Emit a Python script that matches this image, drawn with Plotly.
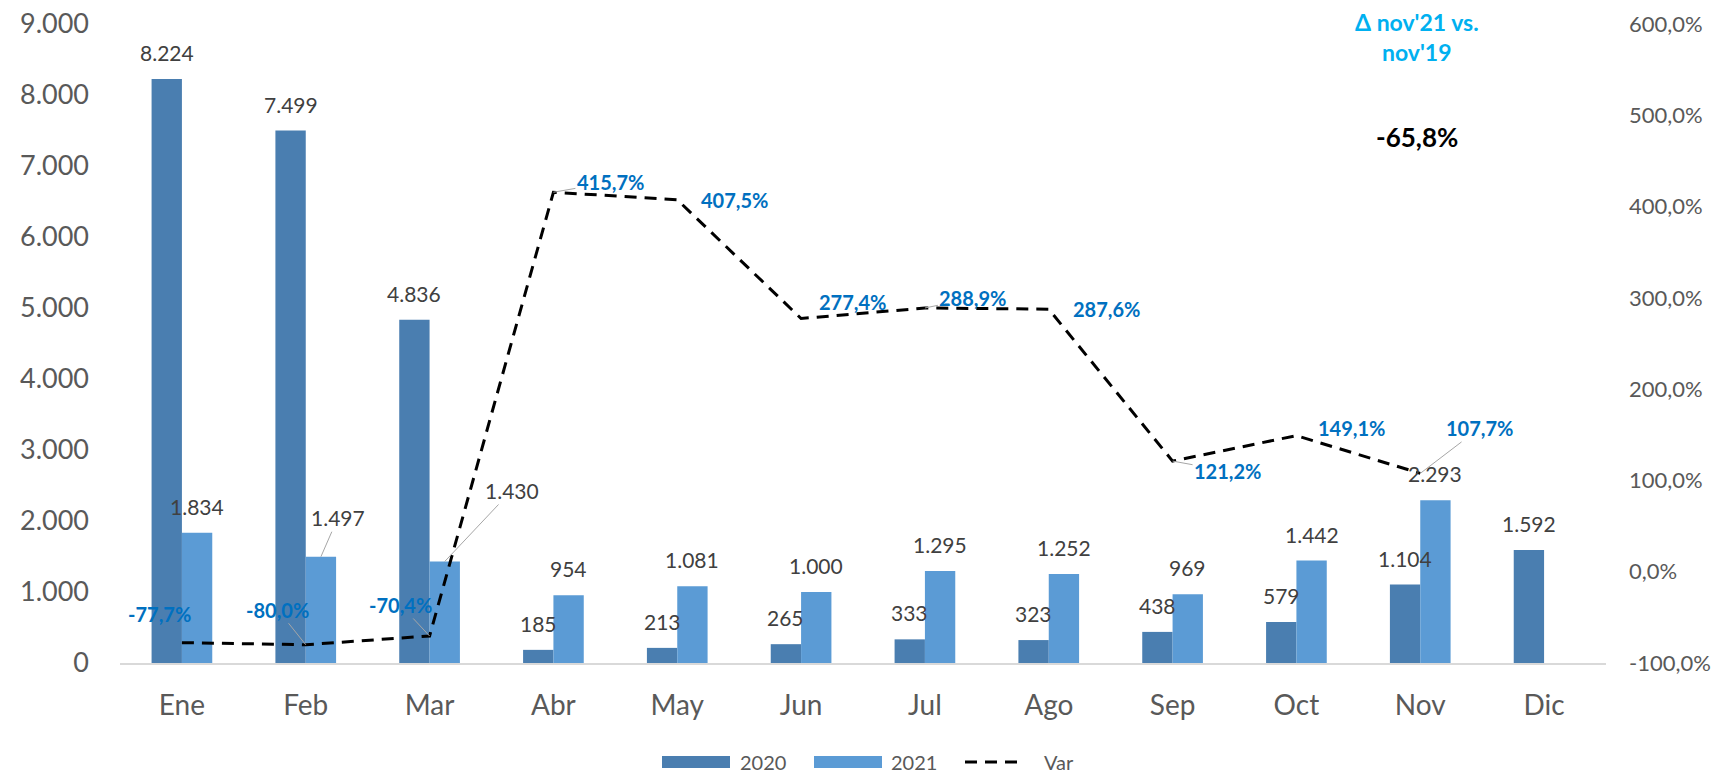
import plotly.graph_objects as go

months = ["Ene", "Feb", "Mar", "Abr", "May", "Jun", "Jul", "Ago", "Sep", "Oct", "Nov", "Dic"]
v2020 = [8224, 7499, 4836, 185, 213, 265, 333, 323, 438, 579, 1104, 1592]
v2021 = [1834, 1497, 1430, 954, 1081, 1000, 1295, 1252, 969, 1442, 2293, None]
var = [-77.7, -80.0, -70.4, 415.7, 407.5, 277.4, 288.9, 287.6, 121.2, 149.1, 107.7, None]

y_ticks = [0, 1000, 2000, 3000, 4000, 5000, 6000, 7000, 8000, 9000]
y_ticktext = ["0", "1.000", "2.000", "3.000", "4.000", "5.000", "6.000", "7.000", "8.000", "9.000"]
y2_ticks = [-100, 0, 100, 200, 300, 400, 500, 600]
y2_ticktext = ["-100,0%", "0,0%", "100,0%", "200,0%", "300,0%", "400,0%", "500,0%", "600,0%"]

note_title = ["Δ nov'21 vs.", "nov'19"]
note_value = "-65,8%"

C2020 = "#4A7EB0"
C2021 = "#5B9BD5"
FONT = "Lato"

def fmt_int(v):
    return f"{v:,}".replace(",", ".")

def fmt_pct(v):
    return f"{v:.1f}".replace(".", ",") + "%"

fig = go.Figure()
fig.add_trace(go.Bar(x=months, y=v2020, name="2020", marker=dict(color=C2020, line=dict(width=0)), yaxis="y"))
fig.add_trace(go.Bar(x=months, y=v2021, name="2021", marker=dict(color=C2021, line=dict(width=0)), yaxis="y"))
fig.add_trace(go.Scatter(x=months, y=var, name="Var", mode="lines", yaxis="y2",
                         line=dict(color="black", width=3, dash="12px,8px")))

BARGAP = 0.51
L, R, T, B = 120, 116, 24, 111
W, H = 1722, 774
cat_w = (W - L - R) / 12
bw = (1 - BARGAP) / 2 * cat_w
ann = []
lab_font = dict(family=FONT, size=21, color="#404040")

# bar labels
special = {("2021", 1): (17, -39), ("2021", 2): (67, -71)}
for series, vals, sh in (("2020", v2020, -bw / 2), ("2021", v2021, bw / 2)):
    for i, v in enumerate(vals):
        if v is None:
            continue
        key = (series, i)
        if key in special:
            ax, ay = special[key]
            ann.append(dict(x=months[i], y=v, xref="x", yref="y", xshift=sh, text=fmt_int(v),
                            showarrow=True, arrowhead=0, arrowwidth=1, arrowcolor="#A6A6A6",
                            ax=ax, ay=ay, standoff=0, font=lab_font))
        else:
            ann.append(dict(x=months[i], y=v, xref="x", yref="y", xshift=sh, yshift=12,
                            yanchor="bottom", text=fmt_int(v), showarrow=False, font=lab_font))

# var labels: (dx, dy, leader)
var_pos = [(-22, -29, False), (-28, -35, True), (-29, -31, True), (57, -10, True), (57, 0, False),
           (51, -16, False), (48, -10, True), (58, 0, False), (55, 10, True), (55, -8, False),
           (59, -45, True), None]
var_font = dict(family=FONT, size=20, color="#0070C0")
for i, v in enumerate(var):
    if v is None:
        continue
    dx, dy, lead = var_pos[i]
    txt = "<b>" + fmt_pct(v) + "</b>"
    if lead:
        ann.append(dict(x=months[i], y=v, xref="x", yref="y2", text=txt, showarrow=True,
                        arrowhead=0, arrowwidth=1, arrowcolor="#A6A6A6", ax=dx, ay=dy,
                        standoff=0, font=var_font))
    else:
        ann.append(dict(x=months[i], y=v, xref="x", yref="y2", text=txt, showarrow=False,
                        xshift=dx, yshift=-dy, font=var_font))

def px_x(p):
    return (p - L) / (W - L - R)

def px_y(p):
    return (H - B - p) / (H - B - T)

# top-right note
for txt, py, col, size in ((note_title[0], 22, "#00B0F0", 23), (note_title[1], 52, "#00B0F0", 23),
                           (note_value, 137, "black", 26)):
    ann.append(dict(x=px_x(1417), y=px_y(py), xref="paper", yref="paper", text="<b>" + txt + "</b>",
                    xanchor="center", yanchor="middle", showarrow=False,
                    font=dict(family=FONT, size=size, color=col)))

# manual legend
shapes = []
leg_y = 762
leg_font = dict(family=FONT, size=20, color="#595959")
for x0, x1, col, tx, name in ((662, 730, C2020, 738, "2020"), (814, 882, C2021, 889, "2021")):
    shapes.append(dict(type="rect", xref="paper", yref="paper", x0=px_x(x0), x1=px_x(x1),
                       y0=px_y(leg_y + 6), y1=px_y(leg_y - 6), fillcolor=col, line=dict(width=0)))
    ann.append(dict(x=px_x(tx), y=px_y(leg_y), xref="paper", yref="paper", text=name, xanchor="left",
                    yanchor="middle", showarrow=False, font=leg_font))
shapes.append(dict(type="line", xref="paper", yref="paper", x0=px_x(965), x1=px_x(1022),
                   y0=px_y(leg_y), y1=px_y(leg_y), line=dict(color="black", width=3, dash="12px,8px")))
ann.append(dict(x=px_x(1042), y=px_y(leg_y), xref="paper", yref="paper", text="Var", xanchor="left",
                yanchor="middle", showarrow=False, font=leg_font))

fig.update_layout(
    width=W, height=H,
    margin=dict(l=L, r=R, t=T, b=B, autoexpand=False),
    paper_bgcolor="white", plot_bgcolor="white",
    barmode="group", bargap=BARGAP, bargroupgap=0,
    showlegend=False,
    font=dict(family=FONT, color="#595959"),
    xaxis=dict(showgrid=False, showline=True, linecolor="#D9D9D9", linewidth=2, ticks="", automargin=False,
               tickfont=dict(family=FONT, size=28, color="#595959"), ticklabelstandoff=16),
    yaxis=dict(range=[0, 9000], tickvals=y_ticks, ticktext=y_ticktext, showgrid=False, zeroline=False,
               showline=False, automargin=False,
               tickfont=dict(family=FONT, size=27, color="#595959"), ticklabelstandoff=30),
    yaxis2=dict(range=[-100, 600], tickvals=y2_ticks, ticktext=y2_ticktext, overlaying="y", side="right",
                showgrid=False, zeroline=False, showline=False, automargin=False,
                tickfont=dict(family=FONT, size=22, color="#595959"), ticklabelstandoff=22),
    annotations=ann, shapes=shapes,
)

fig.write_html("out.html", config={"displayModeBar": False},
               post_script="document.body.style.margin='0';document.body.style.overflow='hidden';")
